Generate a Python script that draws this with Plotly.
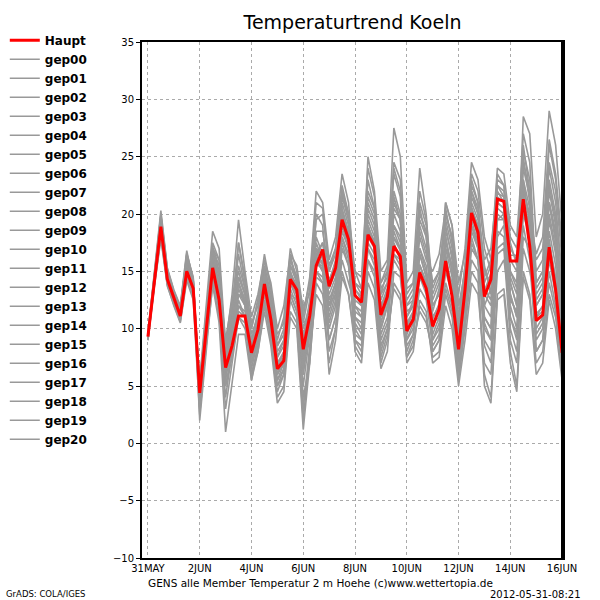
import pandas as pd
import plotly.graph_objects as go

# ---------------- data ----------------
times = pd.date_range("2012-05-31 00:00", periods=65, freq="6h")

haupt = [9.3, 14.3, 18.9, 14.3, 12.6, 11.1, 15.0, 13.5, 4.4, 9.9, 15.3, 12.5, 6.6, 8.5, 11.1, 11.1,
         7.9, 9.9, 13.9, 10.8, 6.5, 7.2, 14.3, 13.4, 8.2, 11.1, 15.5, 16.9, 13.7, 15.3, 19.5, 17.8,
         12.9, 12.3, 18.2, 17.2, 11.2, 12.8, 17.2, 16.3, 9.8, 10.8, 14.9, 13.5, 10.2, 11.7, 15.9, 12.8,
         8.2, 13.4, 20.1, 18.4, 12.8, 14.3, 21.3, 21.1, 15.9, 15.9, 21.3, 17.2, 10.7, 11.2, 17.1, 13.4,
         7.9]

gep00 = [9.2, 14.5, 19.2, 14.6, 12.8, 11.3, 15.3, 13.8, 4.8, 10.3, 15.8, 13.0, 7.0, 9.0, 12.0, 11.5,
         8.3, 10.4, 14.4, 11.2, 7.0, 7.8, 14.8, 13.8, 8.8, 11.8, 16.2, 17.5, 14.2, 15.8, 20.2, 18.3,
         13.4, 12.8, 18.9, 17.6, 11.8, 13.3, 17.9, 16.8, 10.3, 11.4, 15.6, 14.0, 10.8, 12.2, 16.5, 13.3,
         8.8, 13.9, 20.6, 18.9, 13.3, 14.8, 21.8, 21.5, 16.4, 16.4, 21.9, 17.8, 11.3, 11.9, 17.8, 14.0,
         8.5]
gep01 = [9.5, 14.8, 19.8, 15.0, 13.2, 11.8, 16.2, 14.2, 5.2, 11.5, 17.0, 15.5, 8.0, 11.5, 16.5, 13.5,
         9.5, 11.0, 15.2, 12.5, 8.5, 10.0, 16.0, 14.5, 10.5, 13.5, 19.5, 20.0, 15.5, 17.0, 22.5, 20.0,
         15.0, 13.5, 22.0, 20.5, 13.0, 15.0, 24.0, 22.0, 13.0, 14.0, 20.5, 18.0, 14.0, 15.0, 19.0, 16.0,
         11.0, 15.5, 22.0, 20.5, 15.5, 13.0, 19.5, 20.0, 14.0, 12.0, 24.5, 22.0, 15.0, 16.0, 26.0, 23.0,
         17.0]
gep02 = [9.0, 13.8, 18.0, 13.8, 12.0, 10.5, 14.2, 12.5, 2.5, 8.5, 13.8, 10.5, 1.0, 5.5, 9.5, 9.5,
         5.5, 8.5, 12.5, 9.0, 4.0, 5.0, 11.5, 10.5, 2.0, 8.0, 13.0, 12.0, 7.0, 10.0, 15.0, 13.0,
         8.5, 7.5, 15.0, 13.5, 7.0, 9.0, 14.0, 13.0, 7.5, 8.5, 12.0, 11.0, 7.5, 8.0, 13.0, 11.0,
         5.5, 10.0, 15.0, 14.0, 6.0, 4.0, 13.0, 13.5, 8.0, 5.0, 15.0, 13.0, 7.0, 8.0, 13.0, 11.0,
         6.0]
gep03 = [9.4, 14.0, 19.5, 14.8, 12.4, 11.0, 16.5, 14.5, 3.5, 10.8, 17.5, 16.0, 7.5, 11.0, 14.0, 12.0,
         6.5, 9.0, 13.5, 10.0, 5.0, 6.0, 13.5, 12.0, 6.0, 10.0, 18.0, 16.5, 12.0, 14.0, 21.0, 19.0,
         12.0, 11.0, 17.0, 15.5, 9.5, 11.0, 19.0, 18.0, 11.0, 12.0, 17.0, 15.0, 9.0, 10.5, 18.0, 15.0,
         10.0, 15.0, 23.0, 21.0, 14.0, 15.5, 23.5, 22.5, 18.0, 17.0, 25.0, 21.0, 12.0, 13.0, 21.0, 18.0,
         12.0]
gep04 = [9.1, 14.2, 18.5, 14.0, 12.7, 11.4, 15.8, 13.0, 5.0, 11.0, 16.0, 14.0, 5.0, 7.5, 11.0, 10.0,
         7.5, 10.5, 15.5, 13.0, 8.0, 9.0, 15.5, 14.0, 9.0, 12.5, 17.0, 15.5, 11.0, 13.0, 18.0, 16.0,
         9.0, 8.0, 16.0, 15.0, 10.0, 12.0, 16.0, 15.0, 8.0, 9.5, 13.5, 12.5, 8.5, 9.5, 14.0, 12.0,
         7.0, 11.0, 17.5, 16.0, 9.0, 8.0, 17.0, 17.5, 11.0, 9.0, 20.0, 18.0, 9.0, 10.0, 16.0, 13.0,
         9.0]
gep05 = [9.6, 15.0, 20.3, 15.3, 13.4, 12.0, 16.8, 14.0, 4.0, 9.5, 17.2, 15.0, 6.0, 10.0, 17.5, 14.5,
         10.0, 12.5, 16.5, 13.5, 9.0, 11.0, 17.0, 15.0, 11.0, 14.5, 22.0, 21.0, 16.0, 18.0, 23.5, 21.0,
         14.0, 13.0, 25.0, 22.0, 15.0, 16.0, 27.5, 25.0, 14.0, 15.0, 24.0, 20.0, 12.0, 13.0, 20.0, 18.0,
         13.0, 17.0, 24.5, 23.0, 18.0, 16.0, 22.0, 21.0, 15.0, 14.0, 28.5, 27.0, 18.0, 20.0, 29.0, 26.0,
         19.0]
gep06 = [9.3, 14.4, 19.0, 14.5, 12.5, 11.2, 15.5, 13.6, 3.0, 9.0, 15.0, 12.0, 4.0, 8.0, 13.0, 12.5,
         8.5, 10.0, 14.0, 11.0, 6.0, 7.0, 14.0, 13.0, 7.0, 11.0, 15.0, 14.0, 10.0, 12.0, 19.0, 17.5,
         11.0, 10.0, 20.0, 18.5, 12.5, 14.0, 21.0, 19.5, 9.0, 10.0, 16.5, 14.5, 11.5, 13.5, 21.0, 19.0,
         12.0, 14.0, 19.0, 17.0, 10.0, 9.0, 18.0, 19.0, 13.0, 11.0, 22.0, 20.0, 10.0, 11.0, 19.5, 16.5,
         11.0]
gep07 = [9.2, 14.1, 18.7, 14.2, 12.3, 10.8, 14.8, 13.2, 5.5, 12.0, 18.5, 17.0, 8.5, 13.0, 19.5, 15.0,
         11.0, 13.0, 16.0, 14.0, 10.0, 12.0, 16.5, 14.0, 12.0, 13.0, 17.5, 16.0, 8.0, 10.0, 17.0, 15.5,
         10.0, 9.0, 19.0, 17.0, 8.0, 10.0, 18.0, 17.0, 12.0, 13.0, 19.0, 17.0, 13.0, 14.5, 19.5, 17.0,
         9.0, 12.0, 18.0, 16.0, 11.0, 10.0, 20.0, 19.5, 17.0, 16.0, 23.0, 19.0, 8.0, 9.0, 15.0, 12.0,
         7.0]
gep08 = [9.5, 14.6, 19.5, 14.8, 13.0, 11.6, 16.0, 14.3, 4.6, 10.0, 16.5, 14.5, 9.0, 12.5, 15.0, 13.0,
         10.5, 12.0, 15.0, 12.0, 7.5, 8.5, 15.0, 13.5, 4.0, 7.0, 14.0, 13.0, 9.0, 11.0, 16.0, 14.0,
         12.0, 11.5, 19.5, 18.0, 14.0, 15.5, 23.5, 21.5, 10.5, 11.5, 18.0, 16.0, 15.0, 16.5, 20.5, 17.5,
         10.5, 13.0, 20.0, 18.0, 12.0, 11.0, 21.0, 20.5, 10.0, 8.0, 18.0, 17.0, 13.0, 14.0, 22.0, 19.0,
         13.0]
gep09 = [9.0, 13.9, 18.2, 13.9, 12.2, 11.0, 15.2, 13.4, 4.2, 9.8, 15.0, 12.5, 6.0, 8.5, 12.5, 11.0,
         7.0, 9.5, 13.0, 10.5, 6.5, 8.0, 14.5, 13.5, 9.5, 11.5, 16.5, 15.0, 13.0, 14.5, 19.0, 17.0,
         8.0, 7.0, 14.0, 12.5, 6.5, 8.0, 15.0, 14.5, 9.5, 11.0, 15.5, 14.0, 10.0, 12.0, 17.0, 14.5,
         8.0, 13.0, 21.0, 19.5, 14.5, 16.0, 24.0, 23.5, 19.0, 18.0, 26.0, 22.0, 14.0, 15.0, 23.0, 20.0,
         15.0]
gep10 = [9.4, 14.4, 19.6, 15.0, 13.0, 11.5, 16.0, 14.0, 2.0, 8.0, 14.0, 11.0, 3.0, 7.0, 11.0, 10.5,
         6.0, 8.5, 12.5, 9.5, 5.5, 7.0, 13.0, 11.5, 5.0, 9.5, 16.5, 17.5, 14.0, 16.0, 21.5, 19.5,
         13.0, 12.0, 21.0, 19.5, 10.0, 12.0, 20.0, 18.5, 7.0, 8.0, 12.5, 11.5, 7.0, 7.5, 12.0, 10.0,
         5.0, 9.0, 14.0, 13.0, 7.0, 6.0, 15.0, 16.0, 12.0, 10.0, 19.0, 16.0, 8.0, 9.0, 14.0, 11.5,
         6.5]
gep11 = [9.3, 14.2, 18.6, 14.4, 12.6, 11.2, 15.0, 13.3, 5.3, 11.0, 16.8, 14.8, 7.5, 9.5, 13.0, 12.0,
         8.0, 10.0, 14.5, 11.5, 7.0, 8.0, 14.0, 12.5, 6.5, 10.5, 16.0, 15.0, 11.5, 13.5, 20.5, 18.5,
         14.0, 13.5, 23.0, 20.5, 12.0, 13.5, 17.5, 16.0, 11.0, 12.5, 20.0, 18.5, 9.0, 10.0, 15.0, 13.0,
         10.0, 15.5, 22.0, 20.0, 16.0, 17.0, 22.5, 21.5, 14.0, 12.0, 21.0, 19.0, 16.0, 17.0, 24.0, 21.0,
         14.0]
gep12 = [9.1, 14.0, 18.8, 14.1, 12.5, 11.1, 15.6, 13.7, 3.8, 9.2, 14.5, 11.5, 5.5, 9.0, 14.5, 13.0,
         9.0, 11.5, 15.5, 12.5, 8.5, 9.5, 15.0, 13.0, 7.5, 12.0, 18.5, 18.5, 15.0, 16.5, 22.0, 19.5,
         10.5, 9.5, 17.0, 16.0, 8.5, 10.0, 16.5, 15.5, 10.0, 11.0, 17.0, 15.5, 10.5, 11.5, 16.0, 13.5,
         6.0, 10.5, 17.0, 16.0, 10.5, 9.0, 18.5, 18.0, 12.5, 11.5, 20.5, 18.5, 11.0, 12.0, 20.0, 17.0,
         10.0]
gep13 = [9.2, 14.6, 19.4, 14.9, 12.9, 11.7, 16.4, 14.1, 4.5, 10.5, 16.0, 13.5, 7.0, 10.5, 15.5, 13.5,
         7.0, 9.0, 12.5, 9.0, 4.5, 6.0, 13.0, 11.5, 6.5, 11.5, 20.0, 19.0, 12.5, 14.0, 19.5, 17.5,
         9.5, 9.0, 18.0, 17.0, 11.0, 12.5, 19.0, 17.5, 12.5, 13.5, 21.0, 19.0, 11.0, 12.0, 18.5, 16.5,
         9.5, 14.0, 19.5, 17.5, 8.5, 7.0, 16.5, 17.0, 9.0, 7.0, 17.0, 15.0, 12.0, 13.0, 21.0, 18.5,
         11.5]
gep14 = [9.5, 14.7, 19.9, 15.1, 13.1, 11.9, 16.6, 14.4, 3.2, 9.5, 15.5, 12.0, 6.5, 9.0, 13.5, 12.0,
         7.5, 9.5, 14.0, 11.5, 6.0, 7.5, 15.5, 14.5, 10.0, 12.0, 17.0, 16.5, 13.5, 15.0, 20.0, 18.0,
         11.5, 11.0, 19.0, 17.5, 9.0, 10.5, 16.5, 16.0, 8.5, 9.5, 14.5, 13.0, 9.5, 11.0, 17.5, 15.5,
         11.0, 13.5, 20.5, 19.0, 11.0, 10.0, 19.5, 19.5, 11.0, 9.5, 23.0, 20.5, 9.5, 10.5, 17.5, 14.5,
         8.0]
gep15 = [9.3, 14.3, 19.1, 14.4, 12.6, 11.3, 15.4, 13.5, 4.9, 10.0, 16.0, 15.0, 8.0, 11.0, 14.5, 13.0,
         9.0, 10.5, 13.5, 10.0, 5.5, 6.5, 12.5, 11.0, 3.0, 8.5, 15.5, 15.5, 12.0, 14.0, 19.5, 18.0,
         15.0, 14.5, 24.0, 21.5, 13.5, 14.5, 22.0, 20.0, 9.0, 10.5, 16.5, 14.5, 8.0, 9.0, 15.5, 14.0,
         9.0, 12.5, 19.0, 17.5, 13.0, 12.0, 20.5, 20.0, 15.0, 13.5, 24.0, 21.5, 12.5, 13.5, 22.5, 19.5,
         12.5]
gep16 = [9.2, 14.2, 18.9, 14.3, 12.4, 11.0, 15.1, 13.3, 4.1, 9.6, 15.2, 12.8, 6.0, 8.0, 11.5, 11.0,
         8.0, 10.0, 14.0, 11.0, 6.8, 7.5, 14.5, 13.5, 8.5, 11.0, 15.5, 16.0, 10.5, 12.5, 18.5, 17.0,
         12.5, 12.0, 18.5, 17.5, 10.5, 12.5, 18.5, 17.0, 10.0, 11.5, 15.5, 14.0, 12.0, 13.0, 18.0, 15.0,
         7.5, 12.0, 18.5, 17.0, 12.0, 13.5, 22.5, 22.0, 16.0, 15.0, 22.5, 19.5, 11.0, 11.5, 18.5, 15.5,
         9.5]
gep17 = [9.4, 14.5, 19.3, 14.7, 12.8, 11.5, 15.9, 13.9, 3.6, 9.0, 14.8, 12.2, 5.0, 8.0, 12.0, 11.0,
         6.0, 8.0, 11.5, 8.5, 3.5, 4.5, 11.0, 10.0, 1.2, 7.0, 14.5, 14.0, 6.0, 9.0, 14.5, 13.0,
         9.0, 8.5, 16.0, 14.5, 7.5, 9.5, 13.5, 12.5, 7.5, 9.0, 11.5, 10.5, 8.0, 9.0, 13.5, 11.5,
         6.5, 11.0, 16.0, 15.0, 5.0, 3.5, 12.5, 13.0, 7.0, 4.5, 14.5, 12.5, 6.0, 7.0, 12.5, 10.0,
         5.5]
gep18 = [9.0, 13.7, 17.8, 13.7, 12.1, 10.6, 14.5, 12.8, 4.3, 10.0, 15.0, 13.0, 7.5, 10.0, 14.0, 12.5,
         8.5, 11.0, 15.0, 12.0, 7.5, 9.0, 16.5, 15.5, 11.5, 14.0, 21.0, 20.5, 15.0, 17.0, 22.0, 20.0,
         13.5, 12.5, 21.5, 20.0, 14.0, 15.0, 24.5, 23.0, 13.5, 14.0, 22.0, 19.5, 13.5, 15.0, 20.0, 18.0,
         12.0, 15.0, 21.5, 20.0, 15.0, 14.0, 21.0, 20.5, 13.0, 11.0, 21.0, 20.0, 16.5, 18.0, 26.5, 23.5,
         17.5]
gep19 = [9.6, 14.9, 20.0, 15.2, 13.3, 11.8, 16.2, 14.2, 5.0, 10.8, 16.5, 14.0, 6.5, 9.5, 14.0, 12.5,
         5.5, 8.0, 12.0, 9.5, 5.0, 6.5, 13.0, 12.5, 8.0, 10.0, 15.0, 14.5, 12.0, 13.0, 17.5, 15.5,
         10.0, 10.0, 17.5, 16.5, 11.5, 13.0, 20.5, 19.5, 12.0, 12.5, 18.5, 16.5, 12.5, 14.0, 21.0, 19.0,
         14.0, 16.5, 23.5, 22.0, 17.0, 15.0, 23.0, 22.5, 17.5, 15.5, 27.0, 24.5, 14.0, 15.0, 21.0, 17.5,
         13.5]
gep20 = [9.2, 14.3, 18.4, 14.1, 12.3, 10.9, 15.2, 13.1, 4.7, 10.6, 17.0, 16.0, 8.0, 12.0, 17.5, 14.0,
         10.0, 12.5, 16.0, 13.5, 9.5, 10.5, 16.0, 14.5, 10.5, 11.0, 16.0, 15.0, 9.0, 11.0, 18.0, 16.5,
         11.0, 10.5, 20.5, 19.0, 13.0, 14.0, 21.5, 19.5, 11.5, 12.0, 19.5, 18.0, 10.5, 11.0, 17.0, 15.5,
         8.5, 13.5, 22.5, 21.0, 13.5, 12.5, 21.5, 21.0, 14.5, 13.0, 25.5, 23.0, 13.5, 14.5, 24.5, 22.0,
         16.0]

members = {
    "gep00": gep00, "gep01": gep01, "gep02": gep02, "gep03": gep03, "gep04": gep04,
    "gep05": gep05, "gep06": gep06, "gep07": gep07, "gep08": gep08, "gep09": gep09,
    "gep10": gep10, "gep11": gep11, "gep12": gep12, "gep13": gep13, "gep14": gep14,
    "gep15": gep15, "gep16": gep16, "gep17": gep17, "gep18": gep18, "gep19": gep19,
    "gep20": gep20,
}

x_tick_dates = pd.date_range("2012-05-31", "2012-06-16", freq="2D")
x_tick_labels = ["31MAY", "2JUN", "4JUN", "6JUN", "8JUN", "10JUN", "12JUN", "14JUN", "16JUN"]
y_tick_vals = [-10, -5, 0, 5, 10, 15, 20, 25, 30, 35]

# ---------------- figure ----------------
FONT = "DejaVu Sans"
fig = go.Figure()

for i, (name, vals) in enumerate(members.items()):
    fig.add_trace(go.Scatter(
        x=times, y=vals, mode="lines", name=name,
        line=dict(color="#999999", width=1.6),
        legendrank=10 + i,
    ))

fig.add_trace(go.Scatter(
    x=times, y=haupt, mode="lines", name="Haupt",
    line=dict(color="#ff0000", width=3),
    legendrank=1,
))

fig.update_layout(
    width=600, height=600,
    margin=dict(l=142, r=37, t=42, b=42),
    paper_bgcolor="white", plot_bgcolor="white",
    font=dict(family=FONT, size=10, color="black"),
    title=dict(text="Temperaturtrend Koeln", x=0.5875, xanchor="center",
               y=0.962, yanchor="middle",
               font=dict(family=FONT, size=19, color="black")),
    showlegend=True,
    legend=dict(
        xref="container", yref="container", x=0.008, y=0.957,
        xanchor="left", yanchor="top",
        font=dict(family=FONT, size=12, color="black", weight="bold"),
        bgcolor="rgba(0,0,0,0)", borderwidth=0,
        itemwidth=30, tracegroupgap=0, maxheight=1,
    ),
    xaxis=dict(
        range=[pd.Timestamp("2012-05-30 18:30"), pd.Timestamp("2012-06-16 00:50")],
        tickvals=x_tick_dates, ticktext=x_tick_labels,
        showgrid=True, gridcolor="#aaaaaa", griddash="dot", gridwidth=1,
        showline=True, linecolor="black", linewidth=2, mirror=True,
        ticks="", tickfont=dict(family=FONT, size=10),
        zeroline=False,
    ),
    yaxis=dict(
        range=[-10, 35], tickvals=y_tick_vals,
        showgrid=True, gridcolor="#aaaaaa", griddash="dot", gridwidth=1,
        showline=True, linecolor="black", linewidth=2, mirror=True,
        ticks="outside", ticklen=4, tickcolor="black",
        tickfont=dict(family=FONT, size=10),
        zeroline=False,
    ),
)

fig.add_shape(type="line", xref="paper", yref="paper", x0=1, x1=1, y0=0, y1=1,
              line=dict(color="black", width=4))

fig.add_annotation(text="GENS alle Member Temperatur 2 m Hoehe (c)www.wettertopia.de",
                   xref="paper", yref="paper", x=0.423, y=-0.0484, xanchor="center", yanchor="middle",
                   showarrow=False, font=dict(family=FONT, size=10.5, color="black"))
fig.add_annotation(text="2012-05-31-08:21", xref="paper", yref="paper", x=1.0475, y=-0.0717,
                   xanchor="right", yanchor="middle", showarrow=False,
                   font=dict(family=FONT, size=10, color="black"))
fig.add_annotation(text="GrADS: COLA/IGES", xref="paper", yref="paper", x=-0.328, y=-0.0698,
                   xanchor="left", yanchor="middle", showarrow=False,
                   font=dict(family=FONT, size=8.5, color="black"))

fig.write_html("out.html", config={"displayModeBar": False},
               post_script="document.body.style.margin='0px';")
